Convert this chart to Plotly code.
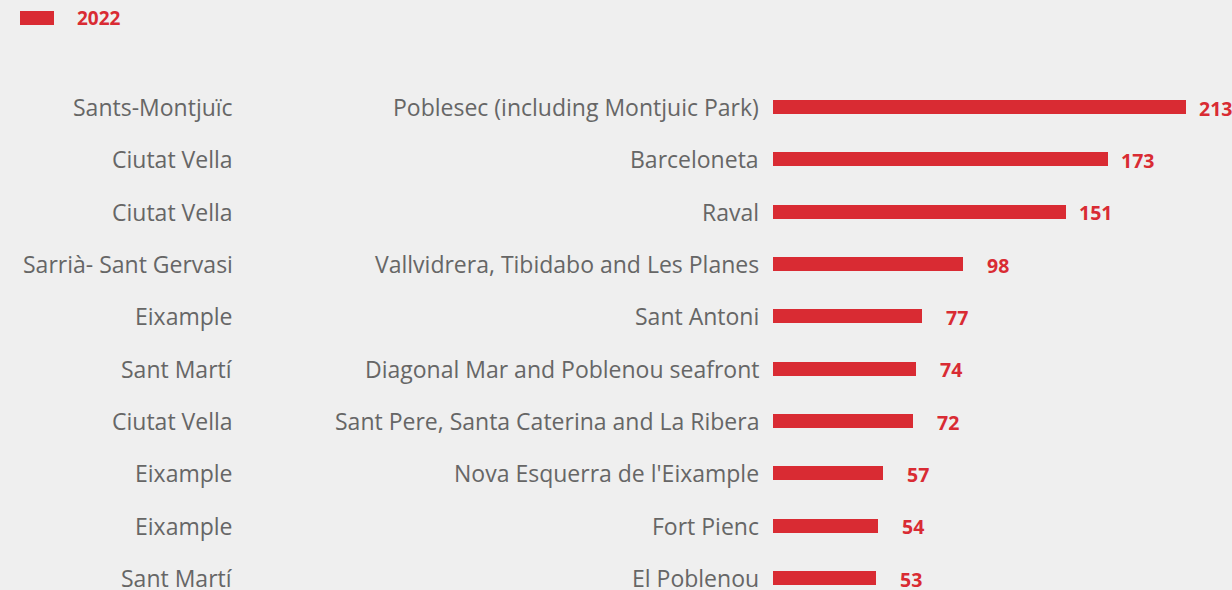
import plotly.graph_objects as go

# Neighbourhoods of Barcelona, 2022
districts = ["Sants-Montjuïc", "Ciutat Vella", "Ciutat Vella", "Sarrià- Sant Gervasi",
             "Eixample", "Sant Martí", "Ciutat Vella", "Eixample", "Eixample", "Sant Martí"]
neighbourhoods = ["Poblesec (including Montjuic Park)", "Barceloneta", "Raval",
                  "Vallvidrera, Tibidabo and Les Planes", "Sant Antoni",
                  "Diagonal Mar and Poblenou seafront", "Sant Pere, Santa Caterina and La Ribera",
                  "Nova Esquerra de l'Eixample", "Fort Pienc", "El Poblenou"]
values_2022 = [213, 173, 151, 98, 77, 74, 72, 57, 54, 53]

RED = "#d92b33"
GREY = "#666666"
BG = "#efefef"
FONT = "Open Sans"

W, H = 1232, 590
LEFT, TOP = 773, 60
PX_PER_UNIT = 1.938
rows = list(range(len(values_2022)))

fig = go.Figure()
fig.add_trace(go.Bar(
    x=values_2022, y=rows, orientation="h",
    marker=dict(color=RED, line=dict(width=0)),
    width=0.27, showlegend=False, hoverinfo="skip",
))

annotations = []
for i, (d, n, v) in enumerate(zip(districts, neighbourhoods, values_2022)):
    annotations.append(dict(x=0, y=i, xref="paper", yref="y", text=d, showarrow=False,
                            xanchor="right", yanchor="middle", xshift=235 - LEFT,
                            font=dict(family=FONT, size=23, color=GREY)))
    annotations.append(dict(x=0, y=i, xref="paper", yref="y", text=n, showarrow=False,
                            xanchor="right", yanchor="middle", xshift=761 - LEFT,
                            font=dict(family=FONT, size=23, color=GREY)))
    annotations.append(dict(x=v, y=i, xref="x", yref="y", text=f"<b>{v}</b>", showarrow=False,
                            xanchor="right", yanchor="middle", xshift=48, yshift=-1,
                            font=dict(family=FONT, size=19.5, color=RED)))

# Legend entry
plot_w = W - LEFT
annotations.append(dict(x=(75 - LEFT) / plot_w, y=1, xref="paper", yref="paper",
                        text="<b>2022</b>", showarrow=False, xanchor="left", yanchor="middle",
                        yshift=(TOP - 18), font=dict(family=FONT, size=19, color=RED)))
shapes = [dict(type="rect", xref="paper", yref="paper",
               x0=(20 - LEFT) / plot_w, x1=(54 - LEFT) / plot_w,
               y0=1 + (TOP - 11) / (H - TOP), y1=1 + (TOP - 25) / (H - TOP),
               fillcolor=RED, line=dict(width=0))]

spacing = (578 - 107) / 9
fig.update_layout(
    width=W, height=H,
    margin=dict(l=LEFT, r=0, t=TOP, b=0),
    paper_bgcolor=BG, plot_bgcolor=BG,
    xaxis=dict(range=[0, plot_w / PX_PER_UNIT], visible=False, fixedrange=True),
    yaxis=dict(range=[9 + (590 - 578) / spacing, -(107 - TOP) / spacing], visible=False,
               fixedrange=True),
    annotations=annotations, shapes=shapes, bargap=0,
)

fig.write_html("out.html", config={"displayModeBar": False})
